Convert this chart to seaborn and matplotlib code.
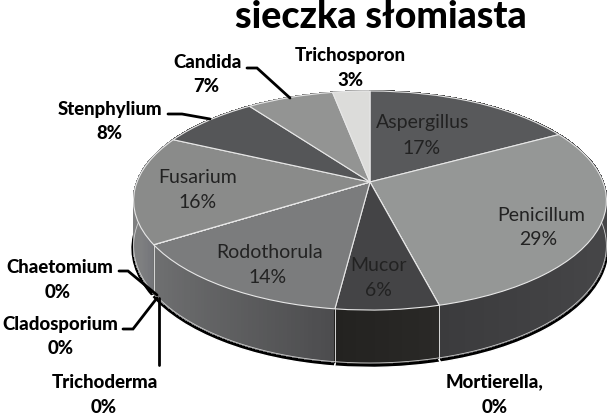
import numpy as np
import matplotlib
matplotlib.use("Agg")
import matplotlib.pyplot as plt
from matplotlib.collections import PolyCollection
from matplotlib.transforms import Transform
import seaborn as sns

title = "sieczka słomiasta"
names = ["Aspergillus", "Penicillum", "Mortierella,", "Mucor", "Rodothorula", "Chaetomium",
         "Cladosporium", "Trichoderma", "Fusarium", "Stenphylium", "Candida", "Trichosporon"]
values = [17, 29, 0, 6, 14, 0, 0, 0, 16, 8, 7, 3]
top_colors = ["#58595b", "#959796", "#777777", "#444446", "#7b7c7d", "#777777",
              "#777777", "#777777", "#8a8b8a", "#555658", "#939493", "#dcdcda"]
wall_left = ["#444444", "#3b3b3d", "#333333", "#232220", "#6f7071", "#777777",
             "#777777", "#777777", "#7e7f80", "#555555", "#777777", "#999999"]
wall_right = ["#444444", "#454547", "#333333", "#2a2927", "#4c4c4e", "#777777",
              "#777777", "#777777", "#74757a", "#555555", "#777777", "#999999"]
label_pos = {"Aspergillus": (423, 122, 422, 148), "Penicillum": (541, 215, 538, 239),
             "Mortierella,": (495, 382, 495, 407), "Mucor": (378, 265, 378, 290),
             "Rodothorula": (270, 252, 268, 277), "Chaetomium": (60, 267, 58, 292),
             "Cladosporium": (60, 324, 61, 348), "Trichoderma": (105, 382, 104, 407),
             "Fusarium": (198, 177, 198, 202), "Stenphylium": (110, 109, 109, 133),
             "Candida": (208, 62, 206, 87), "Trichosporon": (350, 55, 350, 80)}
inside = {"Aspergillus", "Penicillum", "Mucor", "Rodothorula", "Fusarium"}
leaders = [([247, 257, 290], [68, 68, 98]), ([168, 182, 210], [114, 114, 119]),
           ([119, 128, 157], [271, 271, 295]), ([123, 133, 157], [329, 329, 298]),
           ([159, 159], [365, 298])]

sns.set_theme(style="white")
plt.rcParams["font.family"] = ["Lato", "DejaVu Sans"]


class Tilted(Transform):
    """Perspective view of the unit-circle pie, in pixel-like data units."""
    input_dims = output_dims = 2

    def __init__(self, drop=0.0, grow=1.0):
        super().__init__()
        self.drop, self.grow = drop, grow

    def transform_non_affine(self, values):
        values = np.asarray(values, float)
        u, v = values[:, 0] * self.grow, values[:, 1] * self.grow
        w = 1 + 0.169 * v
        return np.column_stack([370 + 233 * u / w, 182 + (self.drop - 106.4 * v) / w])


fig = plt.figure(figsize=(6.07, 4.15), dpi=100, facecolor="white")
ax = fig.add_axes([0, 0, 1, 1])
DEPTH = 44

# black shadow below the drum
shadow, _ = ax.pie(values, colors=["black"] * len(values), startangle=90, counterclock=False)
for w in shadow:
    w.set_transform(Tilted(DEPTH + 2.0, 1.012) + ax.transData)
    w.set_zorder(1)

# side wall
top = Tilted()
bot = Tilted(DEPTH)
stops = np.cumsum([0] + values) / sum(values) * 2 * np.pi
polys, cols, order = [], [], []
rim_t = np.linspace(0, 2 * np.pi, 361)
for i in range(len(values)):
    if values[i] == 0:
        continue
    n = max(int(values[i] * 4), 2)
    ts = np.linspace(stops[i], stops[i + 1], n + 1)
    c0, c1 = np.array(matplotlib.colors.to_rgb(wall_left[i])), np.array(matplotlib.colors.to_rgb(wall_right[i]))
    ends = np.sin([stops[i], stops[i + 1]])
    lo, hi = ends.min(), ends.max()
    for a, b in zip(ts[:-1], ts[1:]):
        pa = np.array([[np.sin(a), np.cos(a)], [np.sin(b), np.cos(b)]])
        q = np.vstack([top.transform_non_affine(pa), bot.transform_non_affine(pa)[::-1]])
        polys.append(q)
        f = np.clip((np.sin((a + b) / 2) - lo) / (hi - lo), 0, 1) if hi > lo else 0.5
        cols.append(c0 + (c1 - c0) * f)
        order.append(-np.cos((a + b) / 2))
idx = np.argsort(order)
ax.add_collection(PolyCollection([polys[k] for k in idx], facecolors=[cols[k] for k in idx],
                                 edgecolors=[cols[k] for k in idx], linewidths=0.8,
                                 antialiaseds=False, zorder=2))

# bottom rim and slice dividers on the wall
front = np.sort(rim_t[np.cos(rim_t) < 0.05])
rim = bot.transform_non_affine(np.column_stack([np.sin(front), np.cos(front)]))
ax.plot(rim[:, 0], rim[:, 1], color="#cfcfcf", lw=0.6, zorder=3)
for s in stops[:-1]:
    if np.cos(s) < -0.05:
        p = np.array([[np.sin(s), np.cos(s)]])
        a, b = top.transform_non_affine(p)[0], bot.transform_non_affine(p)[0]
        ax.plot([a[0], b[0]], [a[1], b[1]], color="#d5d5d5", lw=0.7, zorder=3)

# top face
wedges, _ = ax.pie(values, colors=top_colors, startangle=90, counterclock=False,
                   wedgeprops=dict(edgecolor="#e8e8e8", linewidth=0.8))
for w in wedges:
    w.set_transform(Tilted() + ax.transData)
    w.set_zorder(4)

for xs, ys in leaders:
    ax.plot(xs, ys, color="black", lw=2.0, zorder=5, solid_joinstyle="miter")

for name, val in zip(names, values):
    x1, y1, x2, y2 = label_pos[name]
    kw = (dict(color="#222222", fontsize=14) if name in inside
          else dict(color="black", fontsize=13.4, fontweight="black"))
    ax.text(x1, y1, name, ha="center", va="center", zorder=6, **kw)
    ax.text(x2, y2, f"{val}%", ha="center", va="center", zorder=6, **kw)

ax.text(381, 17, title, ha="center", va="center", fontsize=27, fontweight="black", color="black", zorder=6)

ax.set_aspect("auto")
ax.set_xlim(0, 607)
ax.set_ylim(415, 0)
ax.axis("off")
fig.savefig("out.png", dpi=100, facecolor="white")
